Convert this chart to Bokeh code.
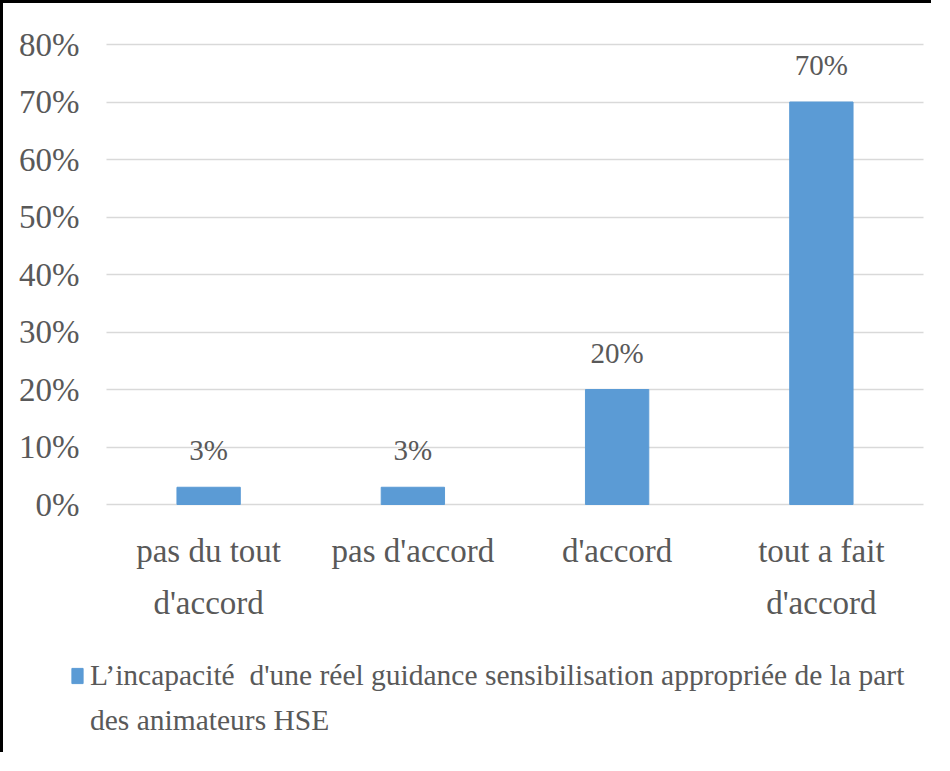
from bokeh.plotting import figure
from bokeh.models import (ColumnDataSource, FixedTicker, NumeralTickFormatter, Legend,
                          LegendItem, Range1d)
from bokeh.core.properties import value
from bokeh.embed import file_html
from bokeh.resources import INLINE

categories = ["pas du tout\nd'accord", "pas d'accord", "d'accord", "tout a fait\nd'accord"]
values = [0.03, 0.03, 0.20, 0.70]
labels = ["3%", "3%", "20%", "70%"]
y_ticks = [0.0, 0.1, 0.2, 0.3, 0.4, 0.5, 0.6, 0.7, 0.8]
series_line1 = "L\u2019incapacit\u00e9  d'une r\u00e9el guidance sensibilisation appropri\u00e9e de la part"
series_line2 = "des animateurs HSE"

FONT = "Liberation Serif"
GREY = "#595959"
BLUE = "#5B9BD5"

# category slots: slot i spans [i, i+1], bar at its centre
xpos = [i + 0.5 for i in range(len(categories))]
src = ColumnDataSource(dict(x=xpos, val=values, lab=labels))

W, H = 931, 752
px_per_cat = 204.25
px_per_unit = 575.0
grid_left, zero_y, top_y = 103, 501, 41

x_range = Range1d(-grid_left / px_per_cat, len(categories) + (W - grid_left - px_per_cat * len(categories)) / px_per_cat)
y_range = Range1d(-(H - zero_y) / px_per_unit, y_ticks[-1] + top_y / px_per_unit)

p = figure(x_range=x_range, y_range=y_range, width=W, height=H,
           output_backend="svg", toolbar_location=None, min_border=0)
p.styles = {"border-top": "3px solid #000", "border-left": "3px solid #000"}
p.outline_line_color = None

r = p.vbar(x="x", top="val", width=0.31, source=src, color=BLUE)
r_blank = p.vbar(x="x", top="val", width=0.31, source=src, color=BLUE, alpha=0)
p.text(x="x", y="val", text="lab", source=src, text_align="center",
       text_baseline="alphabetic", y_offset=-37, text_font=value(FONT),
       text_font_size="29px", text_color=GREY)

p.yaxis.fixed_location = 0
p.yaxis.ticker = FixedTicker(ticks=y_ticks)
p.yaxis.formatter = NumeralTickFormatter(format="0%")
p.yaxis.major_label_text_font = FONT
p.yaxis.major_label_text_font_size = "33px"
p.yaxis.major_label_text_color = GREY
p.yaxis.axis_line_color = None
p.yaxis.major_tick_line_color = None
p.yaxis.minor_tick_line_color = None
p.yaxis.major_label_standoff = 21

p.xaxis.fixed_location = 0
p.xaxis.ticker = FixedTicker(ticks=xpos)
p.xaxis.major_label_overrides = {x: c for x, c in zip(xpos, categories)}
p.xaxis.major_label_text_font = FONT
p.xaxis.major_label_text_font_size = "33px"
p.xaxis.major_label_text_line_height = 1.45
p.xaxis.major_label_text_color = GREY
p.xaxis.axis_line_color = None
p.xaxis.major_tick_line_color = None
p.xaxis.minor_tick_line_color = None
p.xaxis.major_label_standoff = 22

p.xgrid.grid_line_color = None
p.ygrid.grid_line_color = "#D9D9D9"
p.ygrid.grid_line_width = 1.5
p.ygrid.ticker = FixedTicker(ticks=y_ticks)
p.ygrid.cross_bounds = (0, len(categories))

legend = Legend(items=[LegendItem(label=series_line1, renderers=[r]),
                       LegendItem(label=series_line2, renderers=[r_blank])],
                location=(67, 12), orientation="vertical",
                label_text_font=FONT, label_text_font_size="29.5px",
                label_text_color=GREY, glyph_width=14, glyph_height=19,
                border_line_color=None, background_fill_alpha=0,
                margin=0, padding=0, label_standoff=6, spacing=0,
                label_height=45, inactive_fill_alpha=0)
p.add_layout(legend)

open("out.html", "w").write(file_html(p, INLINE))
